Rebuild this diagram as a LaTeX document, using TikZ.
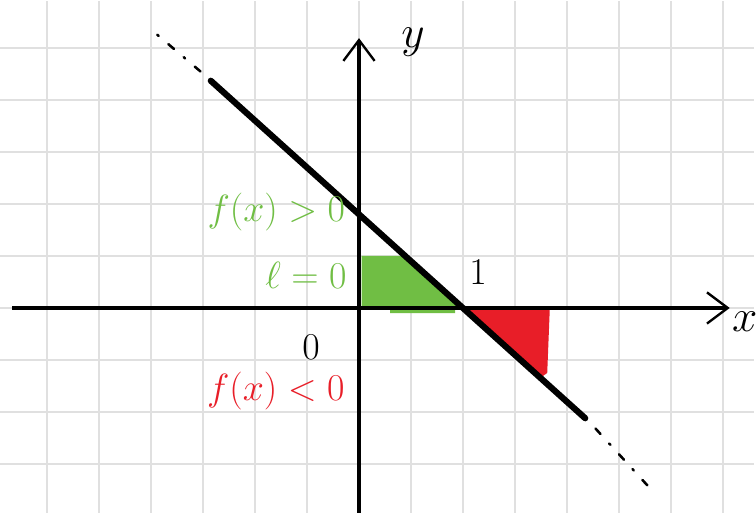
\documentclass[tikz,border=0pt]{standalone}
\usepackage{amsmath}
\usetikzlibrary{arrows.meta}

\definecolor{gridgray}{RGB}{224,224,224}
\definecolor{signgreen}{RGB}{112,190,68}
\definecolor{signred}{RGB}{232,30,40}

\begin{document}
\begin{tikzpicture}[
    axis/.style={
        line width=2.4pt,
        -{Straight Barb[length=4mm,width=6mm,line width=1.3pt]}
    },
    fline/.style={
        line width=3.4pt,
        line cap=round
    },
    tail/.style={
        line width=1.4pt,
        line cap=round,
        dash pattern=on 4pt off 7pt on 1pt off 7pt
    },
    region/.style={
        fill=#1,
        draw=none
    },
    sign/.style={
        text=#1,
        font=\fontsize{22}{22}\selectfont,
        anchor=east,
        inner sep=0pt
    },
    mark label/.style={
        font=\fontsize{#1}{#1}\selectfont,
        inner sep=0pt
    }
]

% paper
\useasboundingbox[fill=white] (-6.904,-3.942) rectangle (7.635,5.923);
\draw[gridgray, line width=1pt] (-7,-4) grid (7.6,5.9);

% shaded regions (drawn first, the line goes over them)
\fill[region=signgreen] (0.05,0) -- (0.05,1.0) -- (0.89,1.0) -- (2,0)
    -- (1.85,0) -- (1.85,-0.1) -- (0.6,-0.1) -- (0.6,0) -- cycle;
\fill[region=signred] (2.05,0) -- (3.67,0) -- (3.62,-1.25) -- (3.52,-1.32) -- cycle;

% axes
\coordinate (xstart) at (-6.67,0);
\coordinate (xend)   at (7.13,0);
\coordinate (ystart) at (0,-3.95);
\coordinate (yend)   at (0,5.19);
\draw[axis] (xstart) -- (xend);
\draw[axis] (ystart) -- (yend);

% the line f(x) and its continuation
\coordinate (lstart) at (-2.85,4.37);
\coordinate (lend)   at (4.35,-2.12);
\coordinate (tailup) at (-4.05,5.40);
\coordinate (taildn) at (5.70,-3.58);
\draw[fline] (lstart) -- (lend);
\draw[tail] (lstart) ++(-0.2,0.18) -- (tailup);
\draw[tail] (lend) ++(0.2,-0.2) -- (taildn);

% axis marks
\node[mark label=36] (ylab) at (1.04,5.12) {$y$};
\node[mark label=30] (xlab) at (7.42,-0.27) {$x$};
\node[mark label=20] (one)  at (2.29,0.69) {$1$};
\node[mark label=20] (zero) at (-0.92,-0.75) {$0$};

% signs
\node[sign=signgreen] (pos)  at (-0.26,1.85) {$f(x)>0$};
\node[sign=signgreen] (root) at (-0.23,0.63) {$\ell=0$};
\node[sign=signred, font=\fontsize{21}{21}\selectfont] (neg) at (-0.27,-1.6) {$f(x)<0$};

\end{tikzpicture}
\end{document}
